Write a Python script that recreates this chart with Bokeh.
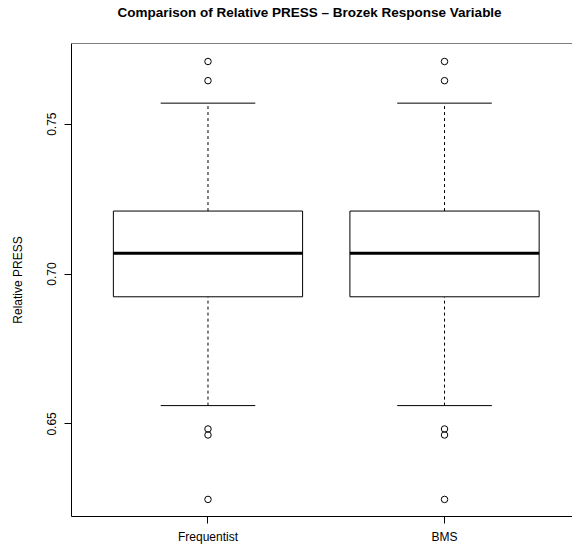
from bokeh.plotting import figure
from bokeh.models import FixedTicker, Range1d, Span, ColumnDataSource, Title
from bokeh.embed import file_html
from bokeh.resources import INLINE

# ---- data ----
categories = ["Frequentist", "BMS"]
positions = [1, 2]
q1 = [0.6924, 0.6924]
median = [0.7069, 0.7069]
q3 = [0.7210, 0.7210]
whisk_lo = [0.6561, 0.6561]
whisk_hi = [0.7570, 0.7570]
outliers_freq = [0.7709, 0.7645, 0.6483, 0.6463, 0.6248]
outliers_bms = [0.7709, 0.7645, 0.6483, 0.6463, 0.6248]
y_ticks = [0.65, 0.70, 0.75]
title_text = "Comparison of Relative PRESS \u2013 Brozek Response Variable"

FONT = "Liberation Sans"

X0, X1 = 0.423, 2.541
Y0, Y1 = 0.6191, 0.7769

p = figure(width=572, height=546, output_backend="svg", toolbar_location=None,
           x_range=Range1d(X0, X1), y_range=Range1d(Y0, Y1),
           min_border_left=71, min_border_right=0, min_border_top=43,
           min_border_bottom=30)
p.outline_line_color = None
p.grid.visible = False
p.background_fill_color = "white"
p.border_fill_color = "white"

# spacer between the frame and the title, then the title itself
p.add_layout(Title(text=" ", text_font_size="1px", standoff=21), "above")
p.add_layout(Title(text=title_text, text_font=FONT, text_font_size="13.5px",
                   text_font_style="bold", text_color="black", align="left",
                   offset=46, standoff=0, vertical_align="bottom"), "above")

box_w = 0.8
cap_w = 0.4
src = ColumnDataSource(dict(x=positions, q1=q1, q3=q3, med=median,
                            lo=whisk_lo, hi=whisk_hi,
                            xl=[x - box_w / 2 for x in positions],
                            xr=[x + box_w / 2 for x in positions],
                            cl=[x - cap_w / 2 for x in positions],
                            cr=[x + cap_w / 2 for x in positions]))

# whiskers (dashed)
p.segment(x0="x", y0="q3", x1="x", y1="hi", source=src, line_color="black",
          line_width=1, line_dash="3 3")
p.segment(x0="x", y0="lo", x1="x", y1="q1", source=src, line_color="black",
          line_width=1, line_dash="3 3")
# caps
p.segment(x0="cl", y0="hi", x1="cr", y1="hi", source=src, line_color="black", line_width=1)
p.segment(x0="cl", y0="lo", x1="cr", y1="lo", source=src, line_color="black", line_width=1)
# boxes
p.quad(left="xl", right="xr", bottom="q1", top="q3", source=src,
       fill_color="white", line_color="black", line_width=1)
# medians
p.segment(x0="xl", y0="med", x1="xr", y1="med", source=src, line_color="black", line_width=3)

# outliers
ox = [1] * len(outliers_freq) + [2] * len(outliers_bms)
oy = outliers_freq + outliers_bms
p.scatter(ox, oy, marker="circle", size=6.5, fill_color=None, line_color="black", line_width=1)

# top border of frame
p.add_layout(Span(location=Y1, dimension="width", line_color="black", line_width=1))

# axes
xa = p.xaxis[0]
xa.ticker = FixedTicker(ticks=positions)
xa.major_label_overrides = {1: categories[0], 2: categories[1]}
xa.minor_tick_line_color = None
xa.major_tick_in = 0
xa.major_tick_out = 7
xa.major_label_standoff = 6
xa.major_label_text_font = FONT
xa.major_label_text_font_size = "12px"
xa.major_label_text_color = "black"
xa.axis_line_color = "black"
xa.major_tick_line_color = "black"

ya = p.yaxis[0]
ya.ticker = FixedTicker(ticks=y_ticks)
ya.major_label_overrides = {0.65: "0.65", 0.70: "0.70", 0.75: "0.75"}
ya.minor_tick_line_color = None
ya.major_tick_in = 0
ya.major_tick_out = 7
ya.major_label_orientation = "vertical"
ya.major_label_standoff = 8
ya.major_label_text_font = FONT
ya.major_label_text_font_size = "12px"
ya.major_label_text_color = "black"
ya.axis_label = "Relative PRESS"
ya.axis_label_text_font = FONT
ya.axis_label_text_font_size = "12px"
ya.axis_label_text_font_style = "normal"
ya.axis_label_text_color = "black"
ya.axis_label_standoff = 20
ya.axis_line_color = "black"
ya.major_tick_line_color = "black"

open("out.html", "w").write(file_html(p, INLINE))
